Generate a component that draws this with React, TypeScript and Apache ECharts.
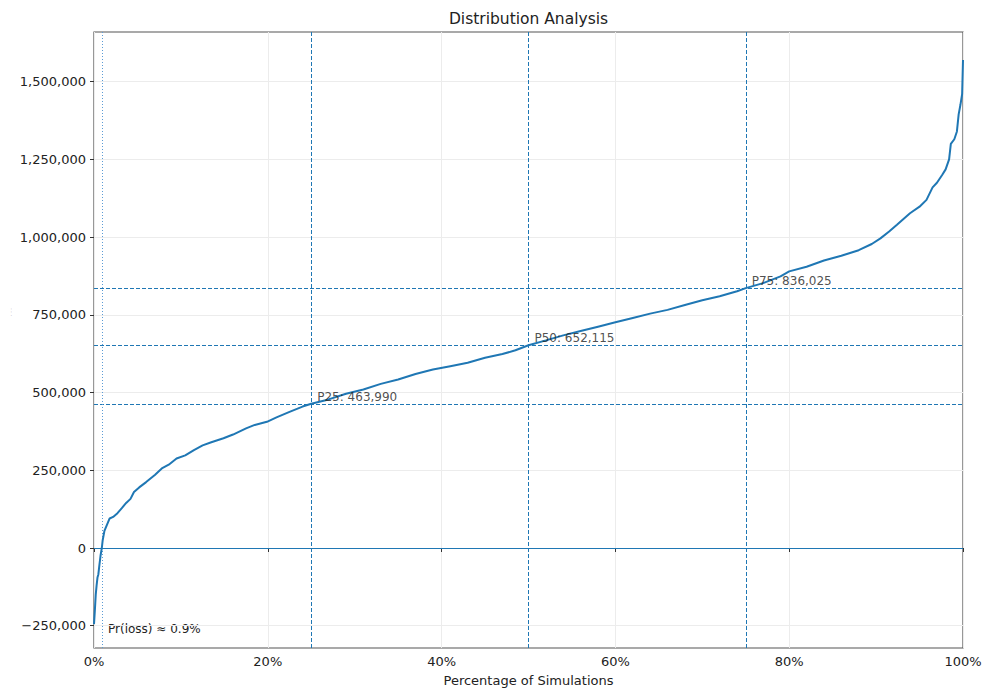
import React, { useEffect, useRef } from "react";
import * as echarts from "echarts";

const pctPoints: number[] = [
  0, 0.1, 0.2, 0.3, 0.4, 0.5, 0.6, 0.75, 0.9, 1.0, 1.2, 1.5, 1.8, 2.2, 2.7, 3.2, 3.7, 4.2, 4.6, 5.2,
  6, 7, 7.8, 8.6, 9.5, 10.5, 11.5, 12.5, 13.5, 14.9, 16, 17.5, 18.5, 19.9, 21, 22.5, 24, 25,
  27, 29, 31, 33, 35, 37, 39, 41, 43, 45, 47, 48.5, 50, 52, 54, 56, 58, 60, 62, 64, 66, 68, 70,
  72, 74, 75, 77, 79, 80, 82, 84, 86, 88, 89.5, 90.5, 91.5, 92.4, 93.9, 95, 95.8, 96.5, 97,
  97.6, 98, 98.4, 98.6, 99, 99.3, 99.5, 99.7, 99.9, 100,
];

const simValues: number[] = [
  -245000, -200000, -150000, -120000, -95000, -85000, -60000, -25000, 0, 25000, 55000, 75000, 95000,
  100000, 112000, 128000, 145000, 158000, 180000, 195000,
  212000, 235000, 256000, 268000, 288000, 298000, 315000, 330000, 340000, 353000, 365000, 385000,
  396000, 406000, 420000, 438000, 455000, 463990,
  478000, 496000, 510000, 528000, 542000, 560000, 574000, 585000, 596000, 612000, 624000, 636000,
  652115, 668000, 684000, 698000, 712000, 726000, 740000, 754000, 766000, 782000, 797000,
  810000, 826000, 836025, 852000, 874000, 890000, 905000, 925000, 940000, 958000, 978000, 996000,
  1018000, 1040000, 1077000, 1098000, 1120000, 1160000, 1175000,
  1200000, 1218000, 1250000, 1300000, 1315000, 1340000, 1395000, 1425000, 1460000, 1570000,
];

const percentileNames: string[] = ["P25", "P50", "P75"];
const percentilePcts: number[] = [25, 50, 75];
const percentileValues: number[] = [463990, 652115, 836025];

const lossPct = 0.9;
const lossText = "Pr(loss) ≈ 0.9%";
const titleText = "Distribution Analysis";
const xName = "Percentage of Simulations";

const yTicks: number[] = [-250000, 0, 250000, 500000, 750000, 1000000, 1250000, 1500000];

const FONT = "DejaVu Sans";
const BLUE = "#1f77b4";

function fmtNum(v: number): string {
  const s = Math.abs(v).toLocaleString("en-US");
  return v < 0 ? "\u2212" + s : s;
}

export default function App() {
  const ref = useRef<HTMLDivElement>(null);

  useEffect(() => {
    if (!ref.current) return;
    const chart = echarts.init(ref.current, undefined, { renderer: "svg" });

    const lineData = pctPoints.map((p, i) => [p, simValues[i]]);
    const labelData = percentilePcts.map((p, i) => ({
      value: [p, percentileValues[i]],
      name: percentileNames[i],
    }));

    const dashStyle = { color: BLUE, width: 1, type: [4, 2] as any };

    chart.setOption({
      animation: false,
      backgroundColor: "#ffffff",
      textStyle: { fontFamily: FONT },
      grid: {
        left: 94,
        right: 34,
        top: 32,
        bottom: 50,
        show: true,
        borderColor: "#555",
        borderWidth: 1.2,
        backgroundColor: "transparent",
      },
      xAxis: {
        type: "value",
        min: 0,
        max: 100,
        interval: 20,
        name: xName,
        nameLocation: "middle",
        nameGap: 26,
        nameTextStyle: { fontFamily: FONT, fontSize: 13, color: "#222" },
        axisLine: { show: false },
        axisTick: { show: true, inside: false, length: 4, lineStyle: { color: "#333" } },
        axisLabel: {
          fontFamily: FONT,
          fontSize: 13,
          color: "#222",
          margin: 7,
          formatter: (v: number) => v + "%",
        },
        splitLine: { show: true, lineStyle: { color: "#ececec", width: 1 } },
      },
      yAxis: {
        type: "value",
        min: -321700,
        max: 1660000,
        axisLine: { show: false },
        axisTick: {
          show: true,
          inside: false,
          length: 4,
          lineStyle: { color: "#333" },
          customValues: yTicks,
        },
        axisLabel: {
          fontFamily: FONT,
          fontSize: 13,
          color: "#222",
          margin: 8,
          customValues: yTicks,
          formatter: (v: number) => fmtNum(v),
        },
        splitLine: { show: true, lineStyle: { color: "#ececec", width: 1 } },
      },
      graphic: [
        {
          type: "text",
          x: 528.5,
          y: 19,
          style: {
            text: titleText,
            fontFamily: FONT,
            fontSize: 15.5,
            fill: "#222",
            textAlign: "center",
            textVerticalAlign: "middle",
          },
        },
        {
          type: "text",
          left: 108,
          top: 623,
          style: { text: lossText, fontFamily: FONT, fontSize: 12, fill: "#222" },
        },
        {
          type: "text",
          x: 8,
          y: 316,
          rotation: Math.PI / 2,
          style: { text: "· · ·", fontFamily: FONT, fontSize: 5, fill: "#888" },
        },
      ],
      series: [
        {
          type: "line",
          data: lineData,
          showSymbol: false,
          symbol: "none",
          smooth: false,
          lineStyle: { color: BLUE, width: 2 },
          z: 5,
          markLine: {
            silent: true,
            symbol: "none",
            label: { show: false },
            data: [
              ...percentilePcts.map((p) => ({ xAxis: p, lineStyle: dashStyle })),
              ...percentileValues.map((v) => ({ yAxis: v, lineStyle: dashStyle })),
              { xAxis: lossPct, lineStyle: { color: "#5b9bd5", width: 1, type: [1, 2] } },
              { yAxis: 0, lineStyle: { color: BLUE, width: 1, type: "solid" } },
            ],
          },
        },
        {
          type: "scatter",
          data: labelData,
          symbolSize: 0,
          z: 6,
          label: {
            show: true,
            position: "right",
            distance: 6,
            offset: [0, -7],
            fontFamily: FONT,
            fontSize: 12,
            color: "#222",
            formatter: (p: any) => p.name + ": " + fmtNum(p.value[1]),
          },
        },
      ],
    });

    return () => chart.dispose();
  }, []);

  return (
    <div
      ref={ref}
      style={{ position: "absolute", left: 0, top: 0, width: 997, height: 698 }}
    />
  );
}
